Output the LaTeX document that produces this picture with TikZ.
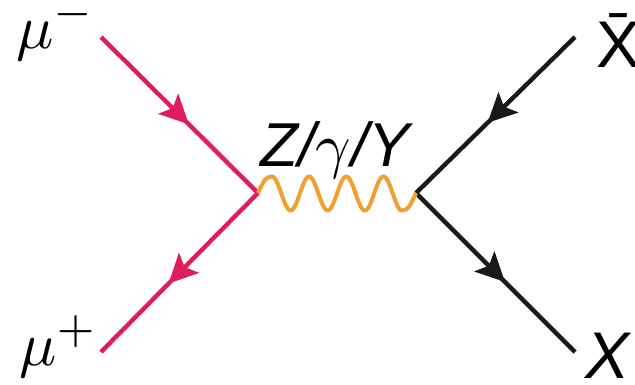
\documentclass[tikz,border=0pt]{standalone}
\usepackage{graphicx}
\usepackage{fontspec}
\setmainfont{Liberation Sans}
\usetikzlibrary{arrows.meta,decorations.markings}
\definecolor{mupink}{RGB}{222,30,90}
\definecolor{waveorange}{RGB}{238,160,48}
\definecolor{xblack}{RGB}{25,25,25}
\newcommand{\biggamma}{{\fontsize{10}{12}\selectfont\scalebox{6.2}{$\gamma$}}}
\tikzset{
  arrowat/.style={postaction={decorate},decoration={markings,
    mark=at position #1 with {\arrow{Stealth[length=29pt,width=28pt,inset=6pt]}}}},
  muline/.style={line width=4.4pt,draw=mupink,fill=none,color=mupink},
  xline/.style={line width=4.4pt,draw=xblack,color=xblack},
  waveline/.style={line width=4pt,draw=waveorange,line join=round},
  lbl/.style={inner sep=0pt,font=\fontsize{62}{74}\selectfont},
  mulbl/.style={inner sep=0pt},
  xlbl/.style={inner sep=0pt,font=\fontsize{66}{78}\selectfont}
}
\begin{document}
\begin{tikzpicture}[x=1pt,y=-1pt]
\useasboundingbox (0,0) rectangle (635,384);
\coordinate (mum) at (101,37);
\coordinate (mup) at (101,352);
\coordinate (xb) at (575,37);
\coordinate (xx) at (575,352);
\coordinate (v1) at (258,193);
\coordinate (v2) at (416,193);
\draw[muline,arrowat=0.56] (mum) -- (v1);
\draw[muline,arrowat=0.57] (v1) -- (mup);
\draw[xline,arrowat=0.55] (xb) -- (v2);
\draw[xline,arrowat=0.56] (v2) -- (xx);
\draw[waveline] (v1) .. controls +(6,-13) and +(-6,0) .. (272,176.5)
  -- plot[domain=0:130,samples=120] ({272+\x},{193.5-17*cos(9.6931*\x)})
  .. controls +(6,0) and +(-6,13) .. (v2);
\node[mulbl,anchor=base west] (lmum) at (16,48) {\scalebox{6.2}{$\mu^-$}};
\node[mulbl,anchor=base west] (lmup) at (19,365) {\scalebox{6.2}{$\mu^+$}};
\node[xlbl,anchor=base west] (lxb) at (596,67) {\=X};
\node[xlbl,anchor=base west] (lxx) at (585,378) {\itshape X};
\node[lbl,anchor=base] (lz) at (335,166) {\itshape Z/\biggamma/Y};
\end{tikzpicture}
\end{document}
